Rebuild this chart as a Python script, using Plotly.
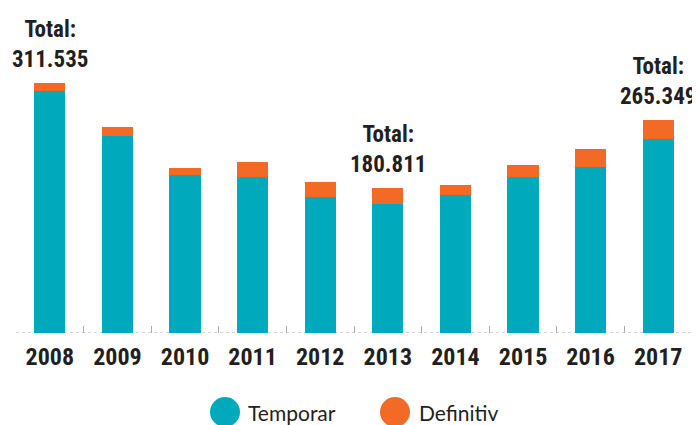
import plotly.graph_objects as go

# ---- data ----
years = ["2008", "2009", "2010", "2011", "2012", "2013", "2014", "2015", "2016", "2017"]
temporar = [301600, 245600, 196600, 194200, 169300, 160900, 171800, 194200, 206600, 241500]
definitiv = [9935, 10800, 8800, 18600, 18600, 19911, 12400, 14900, 22400, 23849]
labelled_years = ["2008", "2013", "2017"]
series_names = ["Temporar", "Definitiv"]

TEAL = "#00aabd"
ORANGE = "#f36a27"
DARK = "#231f20"
COND = "Roboto Condensed, Open Sans Condensed, sans-serif"

# page body adds an 8px offset; layout coordinates below are compensated
OFF = 8
W, H = 700, 425
ML, MR, MT, MB = 16 - OFF, 8 + OFF, 76 - OFF, 92 + OFF
PW, PH = W - ML - MR, H - MT - MB


def px_x(px):
    return (px - OFF - ML) / PW


def px_y(py):
    return (H - MB - (py - OFF)) / PH


fig = go.Figure()
fig.add_trace(go.Bar(x=years, y=temporar, name=series_names[0], marker_color=TEAL,
                     marker_line_width=0, showlegend=False))
fig.add_trace(go.Bar(x=years, y=definitiv, name=series_names[1], marker_color=ORANGE,
                     marker_line_width=0, showlegend=False))

# total labels (category axis: annotation x is the category index)
for yr in labelled_years:
    i = years.index(yr)
    tot = temporar[i] + definitiv[i]
    txt = f"{tot:,}".replace(",", ".")
    fig.add_annotation(x=i, y=tot, xref="x", yref="y", text=f"Total:<br>{txt}",
                       showarrow=False, yanchor="bottom", yshift=8,
                       font=dict(family=COND, size=23, color=DARK, weight="bold"))

# dotted baseline
fig.add_shape(type="line", xref="paper", yref="y", x0=0, x1=1, y0=0, y1=0,
              line=dict(color="#aaaaaa", width=1, dash="dot"), layer="below")

# manual legend
LEG_Y = 412
legend_items = [(series_names[0], TEAL, 225, 246), (series_names[1], ORANGE, 395, 417)]
for name, col, cx, tx in legend_items:
    r = 15
    fig.add_shape(type="circle", xref="paper", yref="paper",
                  x0=px_x(cx - r), x1=px_x(cx + r), y0=px_y(LEG_Y + r), y1=px_y(LEG_Y - r),
                  fillcolor=col, line_width=0)
    fig.add_annotation(x=px_x(tx), y=px_y(LEG_Y), xref="paper", yref="paper", text=name,
                       showarrow=False, xanchor="left", yanchor="middle",
                       font=dict(family="Lato, sans-serif", size=21, color=DARK))

fig.update_layout(
    width=W, height=H,
    margin=dict(l=ML, r=MR, t=MT, b=MB, autoexpand=False),
    barmode="stack", bargap=0.54,
    plot_bgcolor="white", paper_bgcolor="white",
    showlegend=False,
    xaxis=dict(type="category", showgrid=False, zeroline=False, showline=False,
               automargin=False, tickangle=0, range=[-0.5, len(years) - 0.5],
               ticks="inside", tickson="boundaries", ticklen=7, tickcolor="#aaaaaa",
               tickwidth=1, ticklabelstandoff=7,
               tickfont=dict(family=COND, size=24, color=DARK, weight="bold")),
    yaxis=dict(visible=False, range=[0, 320000], fixedrange=True),
)

fig.write_html("out.html")
